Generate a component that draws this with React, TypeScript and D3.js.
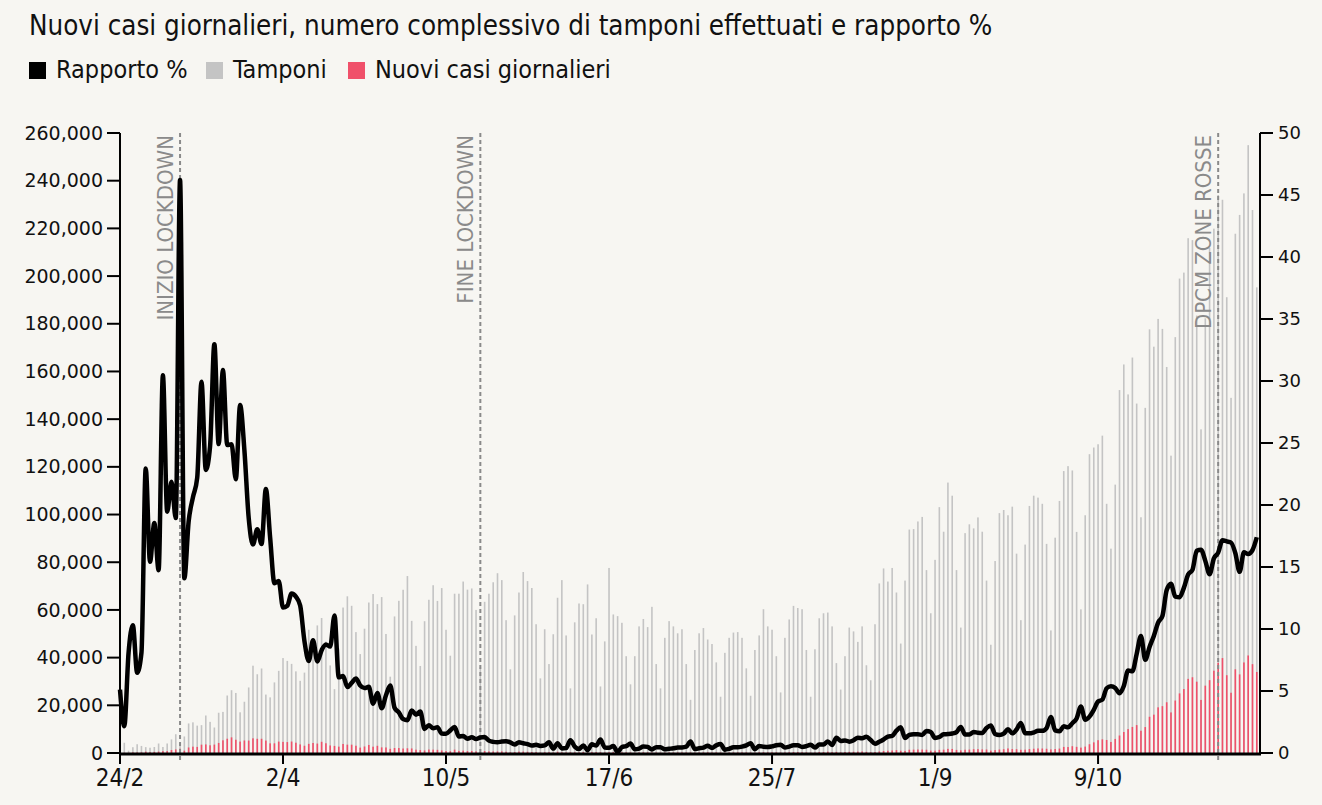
import React, { useEffect } from 'react';
import * as d3 from 'd3';

// tamponi giornalieri, dal 24/2 al 15/11
const tamponi = [
  4324, 4299, 964, 2427, 3681, 2966,
  2466, 2218, 2511, 3981, 2525, 3997, 5703, 7875, 3889, 6935, 12393, 12857, 11477, 11682, 15729, 13063,
  10695, 16884, 17236, 24109, 26336, 25180, 17066, 21496, 27481, 36615, 33019, 35447, 24504, 23329, 29609,
  34455, 39809, 38617, 37375, 34237, 30271, 33713, 51680, 46244, 53495, 56609, 46720, 36717, 26779, 43715,
  60999, 65705, 61725, 50708, 41483, 52126, 63101, 66658, 62447, 65387, 49916, 32003, 57272, 63827, 68456,
  74208, 55412, 44935, 36500, 55263, 64263, 70359, 63775, 69171, 51678, 40800, 66800, 66800, 71900, 68500,
  69000, 60000, 36000, 63400, 66800, 71600, 75400, 72500, 55700, 35100, 57700, 67300, 75900, 72100, 69200, 54000,
  31300, 51900, 37300, 49800, 65100, 72500, 49300, 27100, 54800, 62700, 62400, 70700, 49700, 56500, 27900,
  46800, 77600, 58100, 57400, 54600, 40600, 28800, 40600, 53100, 56200, 52800, 61300, 37300, 27100, 48300,
  55300, 53100, 50200, 51900, 37300, 22300, 43200, 50200, 52400, 47600, 45700, 38000, 23600, 42000, 48300,
  50500, 50700, 48300, 35500, 24000, 43200, 49300, 60300, 53100, 51700, 40600, 25400, 48300, 56000, 61700, 60800,
  60300, 43200, 23600, 43500, 56500, 58600, 58900, 53100, 37700, 26600, 40600, 52600, 51000, 46600, 53100,
  36800, 30500, 54000, 71100, 77400, 71900, 77600, 67300, 45900, 72300, 93700, 93900, 97100, 99000, 76700, 58600,
  81000, 103100, 92800, 113400, 107900, 76700, 52600, 92200, 95900, 94200, 98800, 92800, 72300, 45400, 80500,
  100600, 101900, 99700, 103300, 83600, 55700, 87400, 103600, 107900, 107100, 104500, 87700, 51400, 90300, 105700,
  118236, 120301, 118486, 92714, 60241, 99700, 125314, 128098, 129471, 133084, 104500, 85700, 112544, 152196, 162932,
  150377, 165837, 146541, 98862, 144737, 177669, 170392, 182032, 177848, 161880, 124686, 174398, 198952, 201452, 215886, 215085,
  183457, 135731, 182287, 211831, 219884, 234000, 232000, 191144, 148945, 217758, 225640, 234672, 254908, 227695, 195275,
];

// nuovi casi giornalieri
const nuoviCasi = [
  221, 93, 78, 250, 238, 240,
  566, 342, 466, 587, 769, 778, 1247, 1492, 1797, 977, 2313, 2651, 2547, 3497, 3590, 3233,
  3526, 4207, 5322, 5986, 6557, 5560, 4789, 5249, 5210, 6153, 5959, 5974, 5217, 4050, 4053,
  4782, 4668, 4585, 4805, 4316, 3599, 3039, 3836, 4204, 3951, 4694, 4092, 3153, 2972, 2667,
  3786, 3493, 3491, 3047, 2256, 2729, 3370, 2646, 3021, 2357, 2324, 1739, 2091, 2086, 1872,
  1965, 1900, 1389, 1221, 1075, 1444, 1401, 1327, 1083, 802, 744, 1402, 888, 992, 789,
  875, 675, 451, 813, 665, 642, 652, 669, 531, 300, 397, 584, 593, 516, 416, 355,
  178, 318, 321, 177, 518, 270, 197, 280, 283, 202, 379, 163, 346, 338, 301,
  210, 329, 333, 40, 262, 224, 218, 122, 190, 296, 259, 175, 174, 126, 142,
  187, 201, 223, 235, 192, 208, 138, 193, 229, 276, 188, 234, 169, 114, 162,
  230, 233, 249, 219, 190, 129, 282, 306, 252, 275, 255, 170, 212, 289, 386, 379,
  295, 239, 159, 190, 384, 402, 552, 347, 463, 259, 412, 481, 523, 574, 629,
  479, 320, 403, 642, 845, 947, 1071, 1210, 953, 878, 1367, 1411, 1462, 1444, 1365, 996,
  978, 1326, 1397, 1733, 1695, 1297, 1108, 1370, 1434, 1597, 1616, 1501, 1458, 1008, 1229,
  1452, 1585, 1907, 1638, 1587, 1350, 1392, 1640, 1786, 1912, 1869, 1766, 1494, 1648, 1851,
  2548, 2499, 2844, 2578, 2257, 2677, 3678, 4458, 5372, 5724, 5456, 4619, 5901, 7332, 8804,
  10010, 10925, 11705, 9338, 10874, 15199, 16079, 19143, 19644, 21273, 17012, 21994, 24991, 26831, 31084, 31758,
  29907, 22253, 28244, 30550, 34505, 37809, 39811, 32616, 25271, 35098, 32961, 37978, 40902, 37255, 33979,
];

const tickLabels = ['24/2', '2/4', '10/5', '17/6', '25/7', '1/9', '9/10'];
const eventi = ['INIZIO LOCKDOWN', 'FINE LOCKDOWN', 'DPCM ZONE ROSSE'];
const eventiDate = ['9/3', '18/5', '6/11'];

const BG = '#f7f6f2';
const GRIGIO = '#c4c4c4';
const ROSSO = '#f0506a';
const narrow = "'Liberation Sans Narrow', 'DejaVu Sans Condensed', 'Roboto Condensed', sans-serif";
const wide = "'DejaVu Sans', Verdana, sans-serif";

const parseData = (s: string) => d3.timeParse('%d/%m/%Y')(s + '/2020') as Date;

const W = 1322;
const H = 805;
const left = 120;
const right = 1260;
const top = 133;
const bottom = 753;

export default function App() {
  useEffect(() => {
    document.body.style.margin = '0';
    document.body.style.background = BG;
  }, []);

  const inizio = parseData('24/2');
  const dates = tamponi.map((_, i) => d3.timeDay.offset(inizio, i));
  const data = dates.map((d, i) => ({
    date: d,
    tamponi: tamponi[i],
    casi: nuoviCasi[i],
    rapporto: (nuoviCasi[i] / tamponi[i]) * 100,
  }));

  const x = d3.scaleTime()
    .domain([inizio, new Date(2020, 10, 15, 18)])
    .range([left, right]);
  const yLeft = d3.scaleLinear().domain([0, 260000]).range([bottom, top]);
  const yRight = d3.scaleLinear().domain([0, 50]).range([bottom, top]);

  const line = d3.line<any>()
    .x((d) => x(d.date))
    .y((d) => yRight(d.rapporto))
    .curve(d3.curveMonotoneX);

  const barW = 1.6;
  const fmt = d3.format(',');

  const legend = [
    { label: 'Rapporto %', color: '#000', x: 29 },
    { label: 'Tamponi', color: GRIGIO, x: 206 },
    { label: 'Nuovi casi giornalieri', color: ROSSO, x: 348 },
  ];

  return (
    <svg width={W} height={H} style={{ display: 'block', background: BG }}>
      <defs>
        <clipPath id="plot">
          <rect x={left + 1} y={0} width={right - left} height={bottom + 1} />
        </clipPath>
      </defs>

      <text x={29} y={35} fontFamily={narrow} fontSize={27.5} fill="#111">
        Nuovi casi giornalieri, numero complessivo di tamponi effettuati e rapporto %
      </text>

      {legend.map((l) => (
        <g key={l.label}>
          <rect x={l.x} y={62} width={17} height={17} fill={l.color} />
          <text x={l.x + 27} y={78} fontFamily={narrow} fontSize={25} fill="#111">{l.label}</text>
        </g>
      ))}

      <g clipPath="url(#plot)">
        {data.map((d, i) => (
          <rect key={'t' + i} x={x(d.date) - barW / 2} y={yLeft(d.tamponi)} width={barW}
            height={bottom - yLeft(d.tamponi)} fill={GRIGIO} />
        ))}
        {data.map((d, i) => (
          <rect key={'c' + i} x={x(d.date) - barW / 2} y={yLeft(d.casi)} width={barW}
            height={bottom - yLeft(d.casi)} fill={ROSSO} />
        ))}
      </g>

      {eventi.map((e, i) => {
        const ex = x(parseData(eventiDate[i]));
        return (
          <g key={e}>
            <line x1={ex} x2={ex} y1={top} y2={763} stroke="#8a8a8a" strokeWidth={2} strokeDasharray="4,3" />
            <text transform={`translate(${ex - 7},${top + 2}) rotate(-90)`} textAnchor="end"
              fontFamily={narrow} fontSize={22} fill="#8a8a8a">{e}</text>
          </g>
        );
      })}

      <path d={line(data) || ''} fill="none" stroke="#000" strokeWidth={4.5} strokeLinejoin="round" />

      {/* asse sinistro */}
      <line x1={left} x2={left} y1={top} y2={bottom + 2} stroke="#000" strokeWidth={2} />
      {yLeft.ticks(13).map((t) => (
        <g key={'l' + t}>
          <line x1={left - 13} x2={left} y1={yLeft(t)} y2={yLeft(t)} stroke="#000" strokeWidth={2} />
          <text x={left - 17} y={yLeft(t)} dy="0.35em" textAnchor="end" fontFamily={wide} fontSize={19} fill="#111">
            {fmt(t)}
          </text>
        </g>
      ))}

      {/* asse destro */}
      <line x1={right} x2={right} y1={top} y2={bottom + 2} stroke="#000" strokeWidth={2} />
      {yRight.ticks(10).map((t) => (
        <g key={'r' + t}>
          <line x1={right} x2={right + 13} y1={yRight(t)} y2={yRight(t)} stroke="#000" strokeWidth={2} />
          <text x={right + 18} y={yRight(t)} dy="0.35em" fontFamily={wide} fontSize={18} fill="#111">{t}</text>
        </g>
      ))}

      {/* asse x */}
      <line x1={left - 1} x2={right + 1} y1={bottom + 1} y2={bottom + 1} stroke="#000" strokeWidth={3} />
      {tickLabels.map((t) => {
        const tx = x(parseData(t));
        return (
          <g key={t}>
            <line x1={tx} x2={tx} y1={bottom} y2={764} stroke="#000" strokeWidth={2} />
            <text x={tx} y={786} textAnchor="middle" fontFamily={narrow} fontSize={24} fill="#111">{t}</text>
          </g>
        );
      })}
    </svg>
  );
}
